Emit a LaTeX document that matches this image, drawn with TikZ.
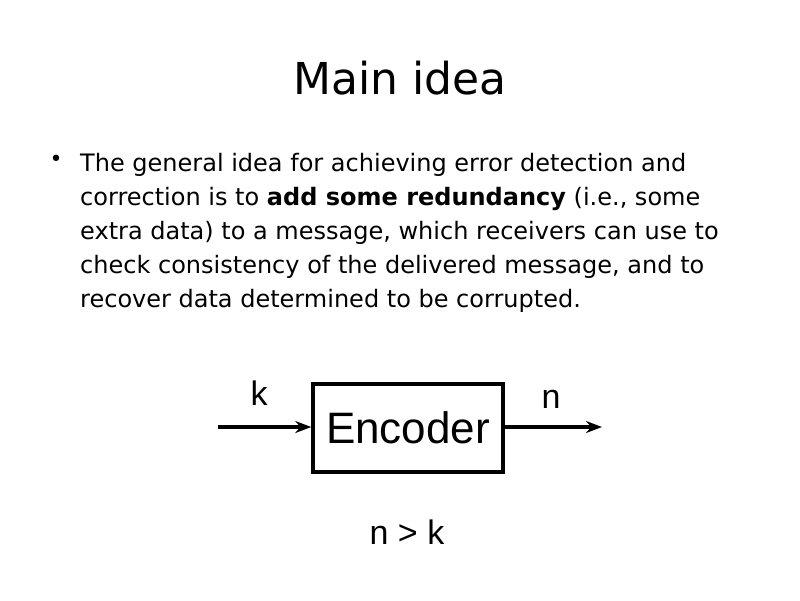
\documentclass[tikz,border=0pt]{standalone}
\usepackage{fontspec}
\setmainfont{DejaVu Sans}
\newfontfamily\diag{Liberation Sans}
\usetikzlibrary{arrows.meta}
\tikzset{line/.style={anchor=base west,inner sep=0pt,font=\fontsize{24}{28}\selectfont},
 arr/.style={line width=3.5pt,-{Stealth[length=16pt,width=12pt]}},
 lbl/.style={font=\diag\fontsize{34}{38}\selectfont,inner sep=0pt}}
\begin{document}
\begin{tikzpicture}[x=1pt,y=-1pt]
\useasboundingbox (0,0) rectangle (800,600);
\node[font=\fontsize{44}{50}\selectfont] (title) at (400,78) {Main idea};
\node[font=\fontsize{22}{24}\selectfont] (bul) at (56,161) {•};
\node[line] (l1) at (80,171) {The general idea for achieving error detection and};
\node[line] (l2) at (80,205) {correction is to \textbf{add some redundancy} (i.e., some};
\node[line] (l3) at (80,239) {extra data) to a message, which receivers can use to};
\node[line] (l4) at (80,273) {check consistency of the delivered message, and to};
\node[line] (l5) at (80,307) {recover data determined to be corrupted.};
\node[draw,line width=3.5pt,minimum width=190pt,minimum height=88pt,font=\diag\fontsize{44}{48}\selectfont] (enc) at (408,428) {Encoder};
\coordinate (in) at (218,427);
\coordinate (out) at (602,427);
\draw[arr] (in) -- (enc.west |- in);
\draw[arr] (enc.east |- out) -- (out);
\node[lbl] (k) at (259,393) {k};
\node[lbl] (n) at (551,399) {n};
\node[lbl] (nk) at (407,532) {n > k};
\end{tikzpicture}
\end{document}
